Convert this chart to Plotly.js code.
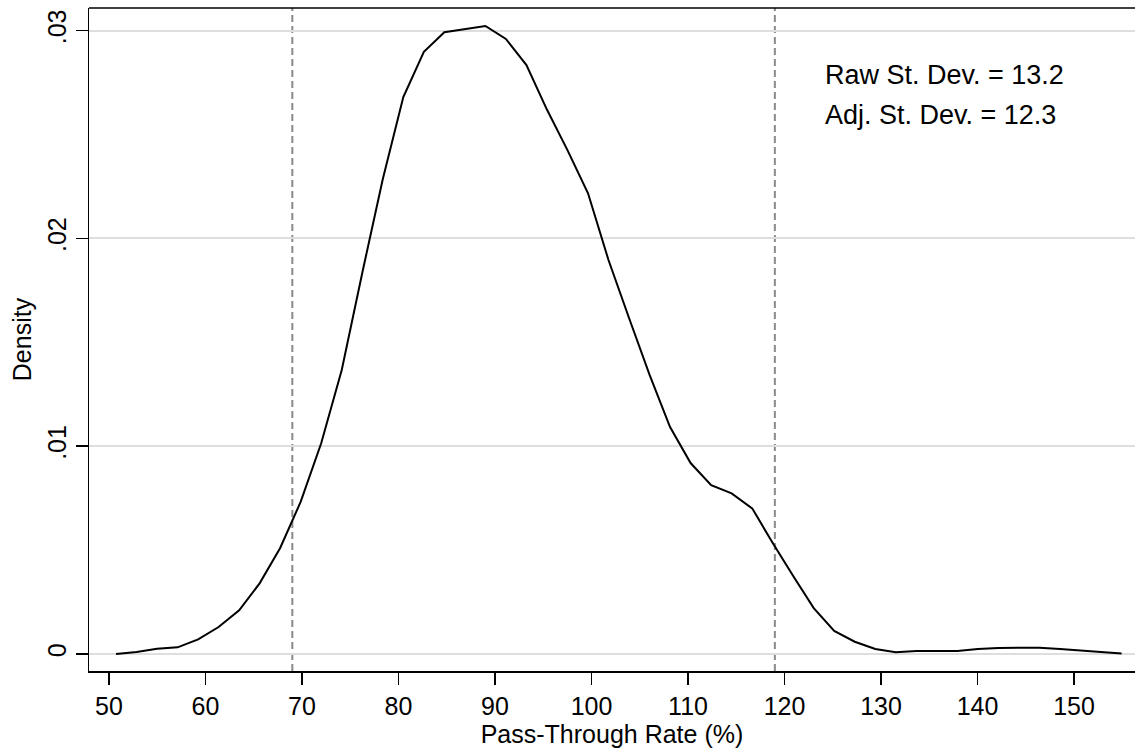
<!DOCTYPE html>
<html>
<head>
<meta charset="utf-8">
<script src="https://cdn.plot.ly/plotly-3.0.1.min.js"></script>
<style>html,body{margin:0;padding:0;background:#fff;}#chart{width:1135px;height:749px;}</style>
</head>
<body>
<div id="chart"></div>
<script>
// Pass-through rate grid (x) and kernel density values (y)
const passThrough = [50.73,52.86,54.98,57.11,59.24,61.36,63.49,65.61,67.74,69.87,
  71.99,74.12,76.25,78.37,80.50,82.63,84.75,86.88,89.01,91.13,
  93.26,95.38,97.51,99.64,101.76,103.89,106.02,108.14,110.27,112.40,
  114.52,116.65,118.78,120.90,123.03,125.15,127.28,129.41,131.53,133.66,
  135.79,137.91,140.04,142.17,144.29,146.42,148.55,150.67,152.80,154.93];
const density = [0.00000,0.00010,0.00025,0.00032,0.00070,0.00130,0.00210,0.00340,0.00510,0.00733,
  0.01014,0.01367,0.01835,0.02285,0.02680,0.02898,0.02992,0.03007,0.03022,0.02960,
  0.02834,0.02620,0.02425,0.02217,0.01896,0.01617,0.01343,0.01092,0.00919,0.00813,
  0.00773,0.00701,0.00534,0.00375,0.00221,0.00111,0.00059,0.00024,0.00008,0.00014,
  0.00014,0.00014,0.00024,0.00029,0.00030,0.00030,0.00024,0.00018,0.00010,0.00002];
const xTickVals = [50,60,70,80,90,100,110,120,130,140,150];
const yTickVals = [0,0.01,0.02,0.03];
const yTickText = ["0",".01",".02",".03"];
const bandLines = [69,119];
const statLabels = ["Raw St. Dev. = 13.2","Adj. St. Dev. = 12.3"];
const statY = [0.02786,0.02594];

const FONT = "Liberation Sans, Arial, sans-serif";

const shapes = bandLines.map(v => ({
  type:'line', xref:'x', yref:'paper', x0:v, x1:v, y0:0, y1:1,
  line:{color:'#8a8a8a', width:2, dash:'7px,4px'}, layer:'below'
}));
shapes.push({type:'line', xref:'paper', yref:'paper', x0:0, x1:1, y0:1, y1:1,
  line:{color:'#000', width:1.5}});

const annotations = statLabels.map((t,i) => ({
  text:t, x:124, y:statY[i], xref:'x', yref:'y', xanchor:'left', yanchor:'middle',
  showarrow:false, font:{family:FONT, size:27, color:'#000'}
}));

const trace = {
  x: passThrough, y: density, type:'scatter', mode:'lines',
  line:{color:'#000', width:2}, hoverinfo:'skip'
};

const layout = {
  width:1135, height:749,
  margin:{l:89, r:0, t:8, b:78, pad:0},
  paper_bgcolor:'#fff', plot_bgcolor:'#fff',
  showlegend:false,
  font:{family:FONT, color:'#000'},
  xaxis:{
    range:[47.93,156.32], tickvals:xTickVals, ticks:'outside', ticklen:12, tickwidth:1.5,
    tickcolor:'#000', showline:true, linecolor:'#000', linewidth:1.5, showgrid:false,
    zeroline:false, tickfont:{family:FONT, size:25, color:'#000'},
    title:{text:'Pass-Through Rate (%)', font:{family:FONT, size:25, color:'#000'}, standoff:0}
  },
  yaxis:{
    range:[-0.000818,0.031087], tickvals:yTickVals, ticktext:yTickText, tickangle:-90,
    ticks:'outside', ticklen:12, tickwidth:1.5, tickcolor:'#000',
    showline:true, linecolor:'#000', linewidth:1.5,
    showgrid:true, gridcolor:'#dedede', gridwidth:2, zeroline:false,
    tickfont:{family:FONT, size:25, color:'#000'},
    title:{text:'Density', font:{family:FONT, size:25, color:'#000'}, standoff:4}
  },
  shapes: shapes,
  annotations: annotations
};

Plotly.newPlot('chart', [trace], layout, {staticPlot:true, displayModeBar:false});
</script>
</body>
</html>
